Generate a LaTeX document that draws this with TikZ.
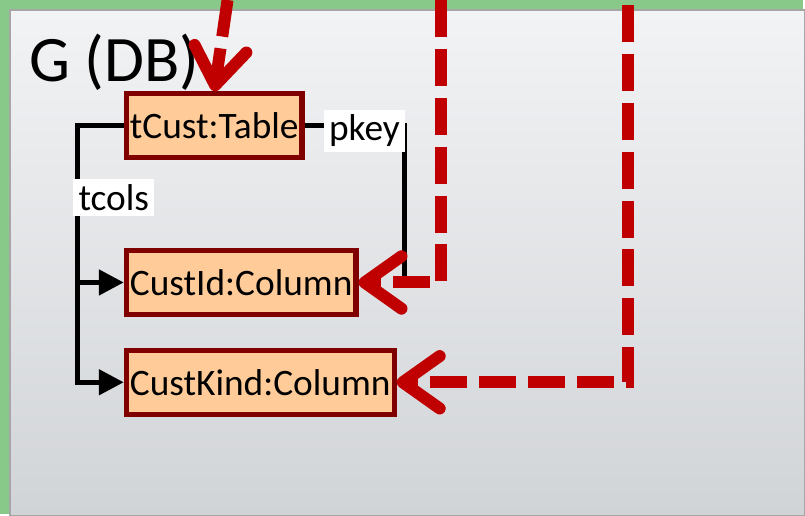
\documentclass[tikz,border=0pt]{standalone}
\usepackage{fontspec}
\setmainfont{Carlito}
\usetikzlibrary{arrows.meta,positioning,calc}

\definecolor{frameGreen}{RGB}{136,201,138}
\definecolor{bgTop}{RGB}{242,243,245}
\definecolor{bgBottom}{RGB}{209,212,215}
\definecolor{objFill}{RGB}{255,204,153}
\definecolor{objEdge}{RGB}{128,0,0}
\definecolor{mapRed}{RGB}{192,0,0}

\begin{document}
\begin{tikzpicture}[
  x=0.02cm, y=-0.02cm,
  font=\fontsize{21.3}{25}\selectfont,
  obj/.style={draw=objEdge, line width=3pt, fill=objFill, inner xsep=2pt, inner ysep=0pt, minimum height=1.28cm, anchor=west},
  rel/.style={line width=0.1cm, black},
  relarrow/.style={rel, -{Triangle[length=0.5cm, width=0.5cm]}},
  lbl/.style={fill=white, inner xsep=3pt, inner ysep=3pt},
  mapping/.style={line width=0.24cm, mapRed, dash pattern=on 0.74cm off 0.24cm, line join=miter,
    -{Straight Barb[length=0.74cm, width=1.05cm, round]}},
]
% ---- frame and background
\fill[frameGreen] (0,0) rectangle (805,515);
\shade[top color=bgTop, bottom color=bgBottom, draw=gray!70, line width=0.6pt] (10,10) rectangle (806,516);
\useasboundingbox (0,0) rectangle (805,515);

\node[anchor=base west, inner sep=0pt, font=\fontsize{37}{42}\selectfont] (title) at (29,82) {G (DB)};

% ---- objects
\node[obj] (tCust)    at (124,126) {tCust:Table};
\node[obj] (CustId)   at (124,283) {CustId:Column};
\node[obj] (CustKind) at (124,383) {CustKind:Column};

% ---- tcols and pkey links
\coordinate (trunk) at (78,126);
\coordinate (pk) at (405,278);
\draw[relarrow] (tCust.west) -- (trunk) |- node[lbl, pos=0.14, anchor=west, xshift=-0.14cm]{tcols} (CustKind.west);
\draw[relarrow] (trunk |- CustId.west) -- (CustId.west);
\draw[rel] (tCust.east) -| node[lbl, pos=0.3, yshift=-0.1cm]{pkey} (pk);

% ---- mappings coming in from above
\coordinate (m1) at (228,0);
\coordinate (m2) at (442,0);
\coordinate (m3) at (629,5);
\draw[mapping] (m1) -- (tCust.north);
\draw[mapping] (m2) |- (CustId.east);
\draw[mapping] (m3) |- (CustKind.east);
\end{tikzpicture}
\end{document}
